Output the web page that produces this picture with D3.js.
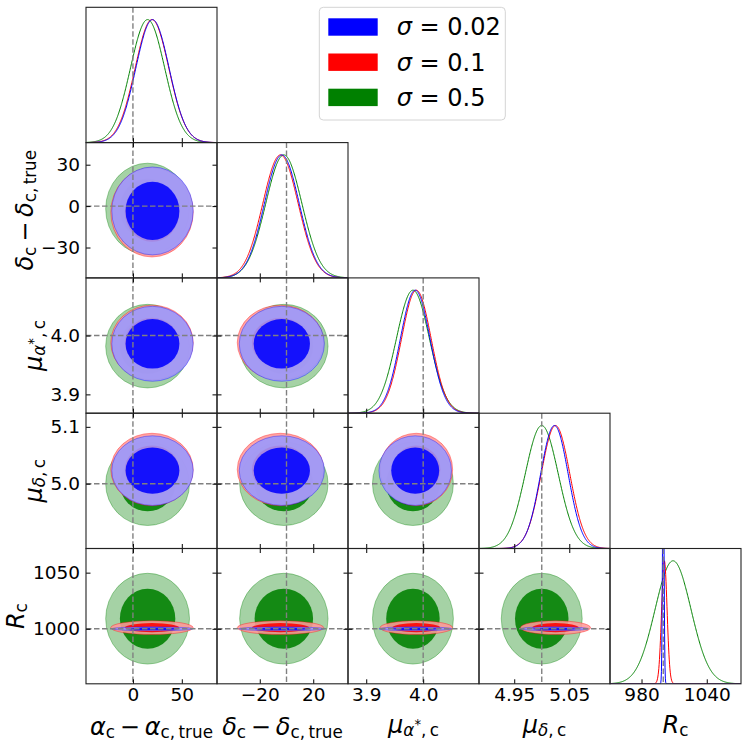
<!DOCTYPE html>
<html>
<head>
<meta charset="utf-8">
<script src="https://cdn.jsdelivr.net/npm/d3@7"></script>
<style>
  body { margin: 0; background: #fff; }
  text { font-family: "DejaVu Sans", sans-serif; }
</style>
</head>
<body>
<svg id="chart" width="747" height="748"></svg>
<script>
// parameters of the corner plot
const truths = [0, 0, 4.0, 5.0, 1000];
const ranges = [[-48, 86], [-52, 46], [3.868, 4.098], [4.886, 5.124], [951, 1071.5]];
const xTicks = [[0, 50], [-20, 20], [3.9, 4.0], [4.95, 5.05], [980, 1040]];
const yTicks = [[], [-30, 0, 30], [3.9, 4.0], [5.0, 5.1], [1000, 1050]];
const xTickFmt = ["d", "d", ".1f", ".2f", "d"];
const yTickFmt = ["d", "d", ".1f", ".1f", "d"];

// series (sigma = 0.02, 0.1, 0.5): posterior mean / std per parameter
const sigmaLabels = ["0.02", "0.1", "0.5"];
const seriesColors = ["#0000ff", "#ff0000", "#008000"];
const meanBlue = [20, -3.5, 3.986, 5.023, 1000];
const sdBlue = [17, 13, 0.026, 0.025, 0.7];
const meanRed = [19.5, -4.5, 3.988, 5.025, 1001];
const sdRed = [17.2, 13.2, 0.026, 0.026, 2.5];
const meanGreen = [15, -2, 3.982, 5.0, 1009];
const sdGreen = [17.5, 13.5, 0.029, 0.030, 16.5];
const peakBlue = [1, 1, 1, 1, 1.9];
const peakRed = [1, 1, 1, 1, 1];
const peakGreen = [1, 1, 1, 1, 1];

// contour radii in units of std (inner, outer)
const levels = [1.62, 2.45];

const series = [
  {label: sigmaLabels[0], color: seriesColors[0], mean: meanBlue, sd: sdBlue, peak: peakBlue},
  {label: sigmaLabels[1], color: seriesColors[1], mean: meanRed, sd: sdRed, peak: peakRed},
  {label: sigmaLabels[2], color: seriesColors[2], mean: meanGreen, sd: sdGreen, peak: peakGreen}
];
// drawing order: green below, blue on top
const drawOrder = [2, 1, 0];

// layout
const gridLeft = 86, gridTop = 7.3, pw = 131, ph = 135.3;
const nPar = 5;
const tickLen = 4.5;
const tickFont = 18.5;
const labelFont = 24;

const svg = d3.select("#chart");

const xs = ranges.map(r => d3.scaleLinear().domain(r).range([0, pw]));
const ys = ranges.map(r => d3.scaleLinear().domain(r).range([ph, 0]));
const yDiag = d3.scaleLinear().domain([0, 1.1]).range([ph, 0]);

// writes matplotlib-like math text with tspans
function mathText(sel, parts, size) {
  const t = sel.append("text").attr("font-size", size).attr("fill", "#000");
  let cur = 0;
  parts.forEach(p => {
    const off = p.o || 0;
    t.append("tspan")
      .attr("font-size", size * (p.s || 1))
      .attr("font-style", p.i ? "italic" : "normal")
      .attr("dy", (off - cur) * size)
      .text(p.t);
    cur = off;
  });
  return t;
}

const sp = "\u2009";
const labelParts = [
  [{t: "α", i: 1}, {t: "c", s: 0.7, o: 0.13}, {t: sp + "−" + sp}, {t: "α", i: 1}, {t: "c," + sp + "true", s: 0.7, o: 0.13}],
  [{t: "δ", i: 1}, {t: "c", s: 0.7, o: 0.13}, {t: sp + "−" + sp}, {t: "δ", i: 1}, {t: "c," + sp + "true", s: 0.7, o: 0.13}],
  [{t: "μ", i: 1}, {t: "α", i: 1, s: 0.7, o: 0.13}, {t: "*", s: 0.55, o: -0.15}, {t: "," + sp + "c", s: 0.7, o: 0.13}],
  [{t: "μ", i: 1}, {t: "δ", i: 1, s: 0.7, o: 0.13}, {t: "," + sp + "c", s: 0.7, o: 0.13}],
  [{t: "R", i: 1}, {t: "c", s: 0.7, o: 0.13}]
];
const xLabelBase = [735, 735, 733, 733, 733];
const yLabelBase = [0, 33, 42, 42, 24];

function gauss(v, m, s, p) {
  const z = (v - m) / s;
  return p * Math.exp(-0.5 * z * z);
}

for (let r = 0; r < nPar; r++) {
  for (let c = 0; c <= r; c++) {
    const g = svg.append("g")
      .attr("transform", "translate(" + (gridLeft + c * pw) + "," + (gridTop + r * ph) + ")");
    const x = xs[c];
    const clipId = "clip_" + r + "_" + c;
    g.append("clipPath").attr("id", clipId)
      .append("rect").attr("width", pw).attr("height", ph);
    const content = g.append("g").attr("clip-path", "url(#" + clipId + ")");

    if (r === c) {
      // 1D marginal curves
      const dom = ranges[c];
      const pts = d3.range(0, 401).map(k => dom[0] + (dom[1] - dom[0]) * k / 400);
      drawOrder.forEach(si => {
        const s = series[si];
        const line = d3.line()
          .x(v => x(v))
          .y(v => yDiag(gauss(v, s.mean[c], s.sd[c], s.peak[c])));
        content.append("path")
          .datum(pts)
          .attr("d", line)
          .attr("fill", "none")
          .attr("stroke", s.color)
          .attr("stroke-width", 1);
      });
      content.append("line")
        .attr("x1", x(truths[c])).attr("x2", x(truths[c]))
        .attr("y1", 0).attr("y2", ph)
        .attr("stroke", "#808080").attr("stroke-width", 1.4)
        .attr("stroke-dasharray", "5.5,2.5");
    } else {
      const y = ys[r];
      // 2D contours: light outer region, dark inner region
      drawOrder.forEach(si => {
        const s = series[si];
        const cx = x(s.mean[c]), cy = y(s.mean[r]);
        const light = d3.interpolateRgb("#ffffff", s.color)(0.4);
        levels.slice().reverse().forEach((k, li) => {
          const rx = Math.abs(x(s.mean[c] + k * s.sd[c]) - cx);
          const ry = Math.abs(y(s.mean[r] + k * s.sd[r]) - cy);
          content.append("ellipse")
            .attr("cx", cx).attr("cy", cy)
            .attr("rx", rx).attr("ry", ry)
            .attr("fill", li === 0 ? light : s.color)
            .attr("fill-opacity", 0.88)
            .attr("stroke", s.color)
            .attr("stroke-opacity", li === 0 ? 0.45 : 0)
            .attr("stroke-width", 0.8);
        });
      });
      content.append("line")
        .attr("x1", x(truths[c])).attr("x2", x(truths[c]))
        .attr("y1", 0).attr("y2", ph)
        .attr("stroke", "#808080").attr("stroke-width", 1.4)
        .attr("stroke-dasharray", "5.5,2.5");
      content.append("line")
        .attr("x1", 0).attr("x2", pw)
        .attr("y1", y(truths[r])).attr("y2", y(truths[r]))
        .attr("stroke", "#808080").attr("stroke-width", 1.4)
        .attr("stroke-dasharray", "5.5,2.5");

      // y ticks (left and right, pointing in)
      const yl = g.append("g")
        .call(d3.axisLeft(y).tickValues(yTicks[r]).tickSize(-tickLen).tickPadding(6)
          .tickFormat(c === 0 ? d3.format(yTickFmt[r]) : ""));
      const yr = g.append("g").attr("transform", "translate(" + pw + ",0)")
        .call(d3.axisRight(y).tickValues(yTicks[r]).tickSize(-tickLen).tickFormat(""));
      // top ticks
      const xt = g.append("g")
        .call(d3.axisTop(x).tickValues(xTicks[c]).tickSize(-tickLen).tickFormat(""));
      [yl, yr, xt].forEach(a => {
        a.select(".domain").remove();
        a.selectAll("text").attr("font-size", tickFont).attr("font-family", "DejaVu Sans");
      });
    }

    // bottom ticks
    const xb = g.append("g").attr("transform", "translate(0," + ph + ")")
      .call(d3.axisBottom(x).tickValues(xTicks[c]).tickSize(-tickLen).tickPadding(4.2)
        .tickFormat(r === nPar - 1 ? d3.format(xTickFmt[c]) : ""));
    xb.select(".domain").remove();
    xb.selectAll("text").attr("font-size", tickFont).attr("font-family", "DejaVu Sans");

    // frame
    g.append("rect")
      .attr("width", pw).attr("height", ph)
      .attr("fill", "none").attr("stroke", "#222").attr("stroke-width", 1.1);
  }
}

// axis labels
for (let i = 0; i < nPar; i++) {
  mathText(svg, labelParts[i], labelFont)
    .attr("text-anchor", "middle")
    .attr("x", gridLeft + i * pw + pw / 2)
    .attr("y", xLabelBase[i]);
  if (i > 0) {
    const cy = gridTop + i * ph + ph / 2;
    mathText(svg, labelParts[i], labelFont)
      .attr("text-anchor", "middle")
      .attr("transform", "translate(" + yLabelBase[i] + "," + cy + ") rotate(-90)");
  }
}

// legend
const legend = svg.append("g");
legend.append("rect")
  .attr("x", 319.3).attr("y", 7.3).attr("width", 186).attr("height", 112.7)
  .attr("rx", 4).attr("fill", "#fff").attr("fill-opacity", 0.8)
  .attr("stroke", "#d4d4d4").attr("stroke-width", 1);
series.forEach((s, i) => {
  const yy = 18.3 + i * 35.2;
  legend.append("rect")
    .attr("x", 328.3).attr("y", yy).attr("width", 49.4).attr("height", 17.4)
    .attr("fill", s.color);
  mathText(legend, [{t: "σ", i: 1}, {t: " = " + s.label}], 24)
    .attr("x", 396.7).attr("y", yy + 17);
});
</script>
</body>
</html>
